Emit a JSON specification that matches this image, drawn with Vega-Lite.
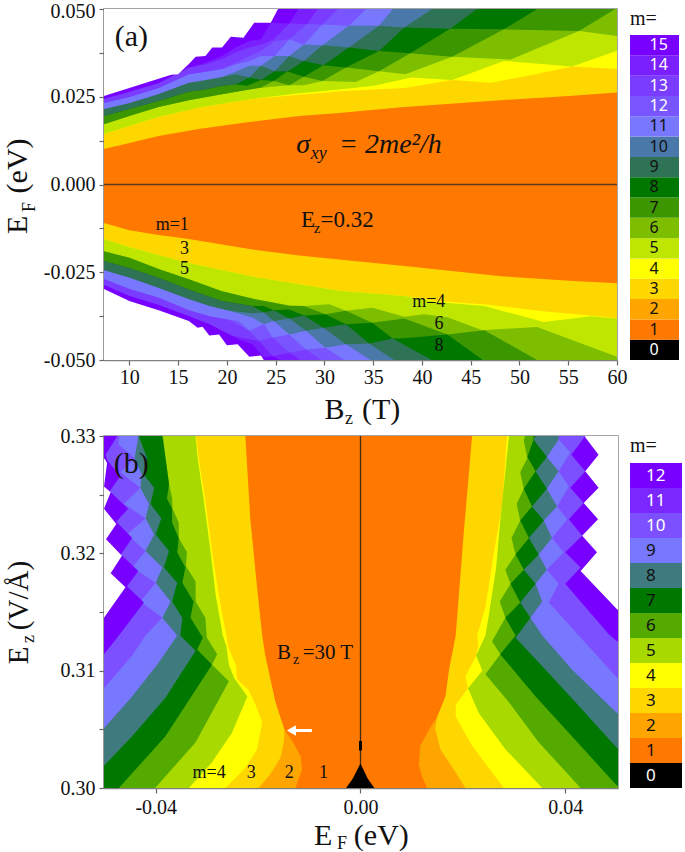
{"$schema":"https://vega.github.io/schema/vega-lite/v6.json","background":"white","padding":{"left":2,"top":0,"right":0,"bottom":0},"autosize":{"type":"pad"},"bounds":"flush","align":"none","columns":2,"spacing":{"row":76,"column":12},"resolve":{"scale":{"color":"independent"}},"config":{"font":"Liberation Serif","view":{"stroke":"#888888","strokeWidth":1.5},"axis":{"grid":false,"labelFont":"Liberation Serif","titleFont":"Liberation Serif","labelFontSize":20,"titleFontSize":30,"titleFontWeight":"normal","labelColor":"#111111","titleColor":"#111111","domainColor":"#808080","domainWidth":1.5,"tickColor":"#666666","tickWidth":1.2,"zindex":1,"labelOverlap":false,"labelFlush":false}},
"datasets":{
"aUp":[{"m":1,"x":7.4,"y":-0.05},{"m":1,"x":60,"y":-0.05},
{"m":3,"x":7.4,"y":0.0101},{"m":3,"x":10,"y":0.0118},{"m":3,"x":13,"y":0.0138},{"m":3,"x":17.1,"y":0.0158},{"m":3,"x":22.3,"y":0.0178},{"m":3,"x":27.4,"y":0.0195},{"m":3,"x":31.5,"y":0.0204},{"m":3,"x":38.2,"y":0.0221},{"m":3,"x":48.4,"y":0.0241},{"m":3,"x":55.1,"y":0.0252},{"m":3,"x":60,"y":0.0262},
{"m":4,"x":7.4,"y":0.0144},{"m":4,"x":10,"y":0.0167},{"m":4,"x":13,"y":0.0192},{"m":4,"x":16.1,"y":0.0212},{"m":4,"x":17.1,"y":0.0219},{"m":4,"x":22.3,"y":0.0243},{"m":4,"x":27.4,"y":0.0256},{"m":4,"x":29.8,"y":0.0261},{"m":4,"x":31.5,"y":0.0266},{"m":4,"x":35.1,"y":0.0271},{"m":4,"x":38.2,"y":0.0275},{"m":4,"x":43.1,"y":0.0298},{"m":4,"x":47.1,"y":0.029},{"m":4,"x":51.8,"y":0.0315},{"m":4,"x":55.4,"y":0.0336},{"m":4,"x":60,"y":0.0329},
{"m":5,"x":7.4,"y":0.0144},{"m":5,"x":10,"y":0.0167},{"m":5,"x":13,"y":0.0192},{"m":5,"x":16.1,"y":0.0212},{"m":5,"x":17.1,"y":0.0219},{"m":5,"x":22.3,"y":0.0243},{"m":5,"x":27.4,"y":0.026},{"m":5,"x":31.5,"y":0.0271},{"m":5,"x":35.1,"y":0.0281},{"m":5,"x":38.9,"y":0.0305},{"m":5,"x":43.1,"y":0.0298},{"m":5,"x":48.4,"y":0.0352},{"m":5,"x":55.4,"y":0.0336},{"m":5,"x":60,"y":0.0381},
{"m":6,"x":7.4,"y":0.0172},{"m":6,"x":10,"y":0.0195},{"m":6,"x":13,"y":0.0221},{"m":6,"x":16.1,"y":0.024},{"m":6,"x":19.5,"y":0.0257},{"m":6,"x":22.3,"y":0.0271},{"m":6,"x":24.3,"y":0.0278},{"m":6,"x":26.4,"y":0.0283},{"m":6,"x":27.9,"y":0.0283},{"m":6,"x":29.8,"y":0.0295},{"m":6,"x":33.2,"y":0.0292},{"m":6,"x":35.6,"y":0.0323},{"m":6,"x":38.3,"y":0.0314},{"m":6,"x":43.1,"y":0.0364},{"m":6,"x":49.1,"y":0.0356},{"m":6,"x":56.1,"y":0.0437},{"m":6,"x":60,"y":0.0423},
{"m":7,"x":7.4,"y":0.0172},{"m":7,"x":10,"y":0.0195},{"m":7,"x":13,"y":0.0221},{"m":7,"x":16.1,"y":0.024},{"m":7,"x":19.5,"y":0.0257},{"m":7,"x":22.3,"y":0.0271},{"m":7,"x":23.5,"y":0.0276},{"m":7,"x":24.8,"y":0.0295},{"m":7,"x":26.4,"y":0.0283},{"m":7,"x":27.9,"y":0.0307},{"m":7,"x":29.8,"y":0.0295},{"m":7,"x":32.2,"y":0.0333},{"m":7,"x":35.6,"y":0.0323},{"m":7,"x":38.8,"y":0.0374},{"m":7,"x":43.1,"y":0.0364},{"m":7,"x":48.4,"y":0.0442},{"m":7,"x":56.1,"y":0.0437},{"m":7,"x":60,"y":0.0503},
{"m":8,"x":7.4,"y":0.0195},{"m":8,"x":10,"y":0.0215},{"m":8,"x":13,"y":0.0238},{"m":8,"x":16.1,"y":0.0264},{"m":8,"x":17.8,"y":0.0271},{"m":8,"x":19.5,"y":0.0281},{"m":8,"x":20.9,"y":0.0285},{"m":8,"x":22.1,"y":0.0281},{"m":8,"x":23.5,"y":0.0298},{"m":8,"x":24.8,"y":0.0295},{"m":8,"x":26.2,"y":0.0322},{"m":8,"x":27.9,"y":0.0307},{"m":8,"x":29.9,"y":0.034},{"m":8,"x":32.2,"y":0.0333},{"m":8,"x":35.6,"y":0.038},{"m":8,"x":38.8,"y":0.0374},{"m":8,"x":42.9,"y":0.0444},{"m":8,"x":48.4,"y":0.0442},{"m":8,"x":52,"y":0.0503},
{"m":9,"x":7.4,"y":0.0195},{"m":9,"x":10,"y":0.0215},{"m":9,"x":13,"y":0.0238},{"m":9,"x":16.1,"y":0.0264},{"m":9,"x":17.8,"y":0.0271},{"m":9,"x":19.5,"y":0.0281},{"m":9,"x":20.9,"y":0.0285},{"m":9,"x":22.3,"y":0.0305},{"m":9,"x":23.5,"y":0.0298},{"m":9,"x":24.9,"y":0.0323},{"m":9,"x":26.2,"y":0.0322},{"m":9,"x":27.9,"y":0.0352},{"m":9,"x":29.9,"y":0.034},{"m":9,"x":32.5,"y":0.039},{"m":9,"x":35.6,"y":0.038},{"m":9,"x":38.2,"y":0.0447},{"m":9,"x":42.9,"y":0.0444},{"m":9,"x":45.8,"y":0.0503},
{"m":10,"x":7.4,"y":0.0215},{"m":10,"x":10,"y":0.0232},{"m":10,"x":13,"y":0.0258},{"m":10,"x":16.1,"y":0.029},{"m":10,"x":17.8,"y":0.0298},{"m":10,"x":19.5,"y":0.0305},{"m":10,"x":20.9,"y":0.0314},{"m":10,"x":22.3,"y":0.0305},{"m":10,"x":23.5,"y":0.0338},{"m":10,"x":24.9,"y":0.0323},{"m":10,"x":26.4,"y":0.0366},{"m":10,"x":27.9,"y":0.0352},{"m":10,"x":29.8,"y":0.0397},{"m":10,"x":32.5,"y":0.039},{"m":10,"x":35.6,"y":0.0452},{"m":10,"x":38.2,"y":0.0447},{"m":10,"x":41.2,"y":0.0503},
{"m":11,"x":7.4,"y":0.0215},{"m":11,"x":10,"y":0.0232},{"m":11,"x":13,"y":0.0258},{"m":11,"x":16.1,"y":0.029},{"m":11,"x":17.8,"y":0.0298},{"m":11,"x":19.5,"y":0.0307},{"m":11,"x":20.9,"y":0.0321},{"m":11,"x":22.3,"y":0.0338},{"m":11,"x":23.5,"y":0.0338},{"m":11,"x":24.9,"y":0.0366},{"m":11,"x":26.4,"y":0.0366},{"m":11,"x":27.9,"y":0.0399},{"m":11,"x":29.8,"y":0.0397},{"m":11,"x":32.5,"y":0.0452},{"m":11,"x":35.6,"y":0.0452},{"m":11,"x":37.1,"y":0.0503},
{"m":12,"x":7.4,"y":0.0232},{"m":12,"x":10,"y":0.0249},{"m":12,"x":13,"y":0.0275},{"m":12,"x":16.1,"y":0.0314},{"m":12,"x":17.8,"y":0.0321},{"m":12,"x":19.5,"y":0.0328},{"m":12,"x":20.9,"y":0.0342},{"m":12,"x":22.3,"y":0.0352},{"m":12,"x":23.5,"y":0.0366},{"m":12,"x":24.9,"y":0.0366},{"m":12,"x":26.4,"y":0.0414},{"m":12,"x":27.9,"y":0.0399},{"m":12,"x":29.8,"y":0.0456},{"m":12,"x":32.5,"y":0.0452},{"m":12,"x":34.4,"y":0.0503},
{"m":13,"x":7.4,"y":0.0232},{"m":13,"x":10,"y":0.0249},{"m":13,"x":13,"y":0.0275},{"m":13,"x":16.1,"y":0.0314},{"m":13,"x":17.8,"y":0.0321},{"m":13,"x":19.5,"y":0.033},{"m":13,"x":20.9,"y":0.0347},{"m":13,"x":22.3,"y":0.0366},{"m":13,"x":23.5,"y":0.038},{"m":13,"x":24.9,"y":0.0409},{"m":13,"x":26.4,"y":0.0414},{"m":13,"x":28.2,"y":0.0457},{"m":13,"x":29.8,"y":0.0456},{"m":13,"x":31.5,"y":0.0503},
{"m":14,"x":7.4,"y":0.0244},{"m":14,"x":10,"y":0.0264},{"m":14,"x":13,"y":0.0289},{"m":14,"x":16.1,"y":0.0333},{"m":14,"x":17.8,"y":0.0342},{"m":14,"x":19.5,"y":0.0357},{"m":14,"x":20.9,"y":0.0376},{"m":14,"x":22.3,"y":0.039},{"m":14,"x":23.5,"y":0.0399},{"m":14,"x":24.8,"y":0.0414},{"m":14,"x":26.4,"y":0.0459},{"m":14,"x":28.2,"y":0.0457},{"m":14,"x":29.4,"y":0.0503},
{"m":15,"x":7.4,"y":0.0244},{"m":15,"x":10,"y":0.0264},{"m":15,"x":13,"y":0.0289},{"m":15,"x":16.1,"y":0.0333},{"m":15,"x":17.8,"y":0.0347},{"m":15,"x":19.5,"y":0.0366},{"m":15,"x":20.9,"y":0.039},{"m":15,"x":22.3,"y":0.0409},{"m":15,"x":23.5,"y":0.0414},{"m":15,"x":24.5,"y":0.0461},{"m":15,"x":26.4,"y":0.0459},{"m":15,"x":27.4,"y":0.0503},
{"m":16,"x":7.4,"y":0.0252},{"m":16,"x":10,"y":0.0275},{"m":16,"x":13,"y":0.0301},{"m":16,"x":14.3,"y":0.0313},{"m":16,"x":15,"y":0.0314},{"m":16,"x":16.1,"y":0.0343},{"m":16,"x":16.8,"y":0.0364},{"m":16,"x":17.8,"y":0.0366},{"m":16,"x":18.5,"y":0.039},{"m":16,"x":19.5,"y":0.039},{"m":16,"x":20.4,"y":0.0421},{"m":16,"x":21.7,"y":0.0418},{"m":16,"x":22.8,"y":0.0461},{"m":16,"x":24.5,"y":0.0461},{"m":16,"x":25.3,"y":0.0503}],
"aLo":[
{"m":3,"x":7.4,"y":-0.011},{"m":3,"x":10,"y":-0.013},{"m":3,"x":13,"y":-0.0144},{"m":3,"x":16.1,"y":-0.0155},{"m":3,"x":22.3,"y":-0.0184},{"m":3,"x":27.4,"y":-0.0202},{"m":3,"x":31.5,"y":-0.0214},{"m":3,"x":38.2,"y":-0.0232},{"m":3,"x":48.4,"y":-0.0262},{"m":3,"x":55.1,"y":-0.0274},{"m":3,"x":60,"y":-0.0281},
{"m":4,"x":7.4,"y":-0.0155},{"m":4,"x":10,"y":-0.0178},{"m":4,"x":13,"y":-0.0201},{"m":4,"x":16.1,"y":-0.0224},{"m":4,"x":23,"y":-0.0264},{"m":4,"x":29.8,"y":-0.0295},{"m":4,"x":31.5,"y":-0.0303},{"m":4,"x":38.2,"y":-0.0318},{"m":4,"x":41.5,"y":-0.0332},{"m":4,"x":46.6,"y":-0.0342},{"m":4,"x":52.4,"y":-0.0361},{"m":4,"x":60,"y":-0.038},
{"m":5,"x":7.4,"y":-0.0155},{"m":5,"x":10,"y":-0.0178},{"m":5,"x":13,"y":-0.0201},{"m":5,"x":16.1,"y":-0.0224},{"m":5,"x":23,"y":-0.0264},{"m":5,"x":29.8,"y":-0.0295},{"m":5,"x":31.5,"y":-0.0303},{"m":5,"x":38.2,"y":-0.0318},{"m":5,"x":41.5,"y":-0.0335},{"m":5,"x":46.4,"y":-0.0346},{"m":5,"x":52.5,"y":-0.0392},{"m":5,"x":57.3,"y":-0.0375},{"m":5,"x":60,"y":-0.0382},
{"m":6,"x":7.4,"y":-0.019},{"m":6,"x":10,"y":-0.0209},{"m":6,"x":13,"y":-0.0241},{"m":6,"x":16.1,"y":-0.027},{"m":6,"x":19.5,"y":-0.0304},{"m":6,"x":22.9,"y":-0.0327},{"m":6,"x":26.4,"y":-0.0344},{"m":6,"x":27.9,"y":-0.0346},{"m":6,"x":30.5,"y":-0.0341},{"m":6,"x":32.2,"y":-0.036},{"m":6,"x":34.9,"y":-0.0351},{"m":6,"x":38.2,"y":-0.0377},{"m":6,"x":40.2,"y":-0.037},{"m":6,"x":42.6,"y":-0.0378},{"m":6,"x":46.2,"y":-0.0415},{"m":6,"x":51.8,"y":-0.0406},{"m":6,"x":60,"y":-0.0491},
{"m":7,"x":7.4,"y":-0.019},{"m":7,"x":10,"y":-0.0209},{"m":7,"x":13,"y":-0.0241},{"m":7,"x":16.1,"y":-0.027},{"m":7,"x":19.5,"y":-0.0304},{"m":7,"x":22.9,"y":-0.0327},{"m":7,"x":24.8,"y":-0.0337},{"m":7,"x":26.4,"y":-0.0346},{"m":7,"x":27.9,"y":-0.0346},{"m":7,"x":30.1,"y":-0.037},{"m":7,"x":32.2,"y":-0.036},{"m":7,"x":34.9,"y":-0.0394},{"m":7,"x":38.2,"y":-0.0382},{"m":7,"x":42.6,"y":-0.0427},{"m":7,"x":46.4,"y":-0.0415},{"m":7,"x":52,"y":-0.0503},
{"m":8,"x":7.4,"y":-0.0218},{"m":8,"x":10,"y":-0.0238},{"m":8,"x":13,"y":-0.0266},{"m":8,"x":16.1,"y":-0.0299},{"m":8,"x":19.5,"y":-0.0332},{"m":8,"x":22.6,"y":-0.0346},{"m":8,"x":23.8,"y":-0.0346},{"m":8,"x":24.8,"y":-0.0358},{"m":8,"x":26.4,"y":-0.0356},{"m":8,"x":27.9,"y":-0.0373},{"m":8,"x":30.1,"y":-0.037},{"m":8,"x":32.2,"y":-0.0398},{"m":8,"x":34.9,"y":-0.0394},{"m":8,"x":37,"y":-0.0439},{"m":8,"x":38.2,"y":-0.0438},{"m":8,"x":42.6,"y":-0.0427},{"m":8,"x":46.4,"y":-0.0503},
{"m":9,"x":7.4,"y":-0.0218},{"m":9,"x":10,"y":-0.0238},{"m":9,"x":13,"y":-0.0266},{"m":9,"x":16.1,"y":-0.0299},{"m":9,"x":19.5,"y":-0.0332},{"m":9,"x":22.6,"y":-0.0346},{"m":9,"x":23.8,"y":-0.0365},{"m":9,"x":24.8,"y":-0.0358},{"m":9,"x":26.4,"y":-0.0382},{"m":9,"x":27.9,"y":-0.0373},{"m":9,"x":29.9,"y":-0.0408},{"m":9,"x":32.2,"y":-0.0398},{"m":9,"x":34.6,"y":-0.0453},{"m":9,"x":37,"y":-0.0439},{"m":9,"x":41.2,"y":-0.0503},
{"m":10,"x":7.4,"y":-0.0244},{"m":10,"x":10,"y":-0.0266},{"m":10,"x":13,"y":-0.0295},{"m":10,"x":16.1,"y":-0.0327},{"m":10,"x":18.2,"y":-0.0346},{"m":10,"x":20.2,"y":-0.036},{"m":10,"x":22.6,"y":-0.0367},{"m":10,"x":23.8,"y":-0.0365},{"m":10,"x":24.8,"y":-0.0389},{"m":10,"x":26.4,"y":-0.0382},{"m":10,"x":28.1,"y":-0.0417},{"m":10,"x":29.9,"y":-0.0408},{"m":10,"x":32.2,"y":-0.0455},{"m":10,"x":34.6,"y":-0.0453},{"m":10,"x":37.3,"y":-0.0503},
{"m":11,"x":7.4,"y":-0.0244},{"m":11,"x":10,"y":-0.0266},{"m":11,"x":13,"y":-0.0295},{"m":11,"x":16.1,"y":-0.0327},{"m":11,"x":18.2,"y":-0.0346},{"m":11,"x":20.2,"y":-0.036},{"m":11,"x":22.6,"y":-0.0379},{"m":11,"x":23.8,"y":-0.0398},{"m":11,"x":24.8,"y":-0.0389},{"m":11,"x":26.4,"y":-0.0427},{"m":11,"x":28.1,"y":-0.0417},{"m":11,"x":30.1,"y":-0.0465},{"m":11,"x":32.2,"y":-0.0455},{"m":11,"x":34.9,"y":-0.0503},
{"m":12,"x":7.4,"y":-0.0269},{"m":12,"x":10,"y":-0.0298},{"m":12,"x":13,"y":-0.0323},{"m":12,"x":16.1,"y":-0.0358},{"m":12,"x":18.2,"y":-0.0375},{"m":12,"x":20.2,"y":-0.0385},{"m":12,"x":21.2,"y":-0.0389},{"m":12,"x":22.3,"y":-0.0417},{"m":12,"x":23.8,"y":-0.0398},{"m":12,"x":24.7,"y":-0.0436},{"m":12,"x":26.4,"y":-0.0427},{"m":12,"x":28.1,"y":-0.047},{"m":12,"x":30.1,"y":-0.0465},{"m":12,"x":32.2,"y":-0.0503},
{"m":13,"x":7.4,"y":-0.0269},{"m":13,"x":10,"y":-0.0298},{"m":13,"x":13,"y":-0.0323},{"m":13,"x":16.1,"y":-0.0358},{"m":13,"x":18.2,"y":-0.0375},{"m":13,"x":20.2,"y":-0.0385},{"m":13,"x":22.3,"y":-0.0417},{"m":13,"x":23.3,"y":-0.0446},{"m":13,"x":24.7,"y":-0.0436},{"m":13,"x":26.4,"y":-0.0479},{"m":13,"x":28.1,"y":-0.047},{"m":13,"x":29.8,"y":-0.0503},
{"m":14,"x":7.4,"y":-0.0286},{"m":14,"x":10,"y":-0.0318},{"m":14,"x":13,"y":-0.0343},{"m":14,"x":16.1,"y":-0.0375},{"m":14,"x":18.2,"y":-0.0398},{"m":14,"x":19.5,"y":-0.0417},{"m":14,"x":20.5,"y":-0.043},{"m":14,"x":21.9,"y":-0.0439},{"m":14,"x":23.3,"y":-0.0446},{"m":14,"x":24.7,"y":-0.0489},{"m":14,"x":26.4,"y":-0.0479},{"m":14,"x":27.7,"y":-0.0503},
{"m":15,"x":7.4,"y":-0.0286},{"m":15,"x":10,"y":-0.0318},{"m":15,"x":13,"y":-0.0343},{"m":15,"x":16.1,"y":-0.0375},{"m":15,"x":18.2,"y":-0.0398},{"m":15,"x":19.5,"y":-0.0417},{"m":15,"x":21.2,"y":-0.0441},{"m":15,"x":22.6,"y":-0.0455},{"m":15,"x":23.8,"y":-0.0493},{"m":15,"x":24.7,"y":-0.0489},{"m":15,"x":25.7,"y":-0.0503},
{"m":16,"x":7.4,"y":-0.0298},{"m":16,"x":10,"y":-0.0332},{"m":16,"x":13,"y":-0.0358},{"m":16,"x":16.1,"y":-0.0389},{"m":16,"x":17,"y":-0.0408},{"m":16,"x":17.5,"y":-0.0405},{"m":16,"x":18.2,"y":-0.043},{"m":16,"x":19.2,"y":-0.0427},{"m":16,"x":20,"y":-0.0458},{"m":16,"x":21.1,"y":-0.0455},{"m":16,"x":22.3,"y":-0.0491},{"m":16,"x":23.5,"y":-0.0487},{"m":16,"x":24,"y":-0.051}],
"bL":[{"m":1,"x":0.0505,"y":0.3},{"m":1,"x":0.0505,"y":0.33},
{"m":2,"y":0.3,"x":-0.0127},{"m":2,"y":0.3016,"x":-0.0114},{"m":2,"y":0.3027,"x":-0.0117},{"m":2,"y":0.304,"x":-0.0133},{"m":2,"y":0.3049,"x":-0.0148},
{"m":3,"y":0.3,"x":-0.0199},{"m":3,"y":0.3012,"x":-0.0176},{"m":3,"y":0.3026,"x":-0.0156},{"m":3,"y":0.3039,"x":-0.015},{"m":3,"y":0.3049,"x":-0.0148},{"m":3,"y":0.3073,"x":-0.0166},{"m":3,"y":0.3093,"x":-0.0176},{"m":3,"y":0.3113,"x":-0.0186},{"m":3,"y":0.313,"x":-0.0192},{"m":3,"y":0.3171,"x":-0.0202},{"m":3,"y":0.3228,"x":-0.0215},{"m":3,"y":0.33,"x":-0.0225},
{"m":4,"y":0.3,"x":-0.0264},{"m":4,"y":0.3017,"x":-0.0225},{"m":4,"y":0.3033,"x":-0.0202},{"m":4,"y":0.3056,"x":-0.0192},{"m":4,"y":0.3071,"x":-0.0205},{"m":4,"y":0.3083,"x":-0.0218},{"m":4,"y":0.3093,"x":-0.0241},{"m":4,"y":0.3104,"x":-0.0243},{"m":4,"y":0.3121,"x":-0.0259},{"m":4,"y":0.313,"x":-0.0262},{"m":4,"y":0.3165,"x":-0.0277},{"m":4,"y":0.3202,"x":-0.029},{"m":4,"y":0.3245,"x":-0.0303},{"m":4,"y":0.3281,"x":-0.0316},{"m":4,"y":0.33,"x":-0.0321},
{"m":5,"y":0.3,"x":-0.0335},{"m":5,"y":0.3022,"x":-0.029},{"m":5,"y":0.3047,"x":-0.0251},{"m":5,"y":0.3078,"x":-0.0221},{"m":5,"y":0.3094,"x":-0.0247},{"m":5,"y":0.3105,"x":-0.0257},{"m":5,"y":0.3121,"x":-0.0262},{"m":5,"y":0.313,"x":-0.0269},{"m":5,"y":0.3165,"x":-0.0283},{"m":5,"y":0.3202,"x":-0.0293},{"m":5,"y":0.3245,"x":-0.0306},{"m":5,"y":0.3281,"x":-0.0318},{"m":5,"y":0.33,"x":-0.0322},
{"m":6,"y":0.3,"x":-0.0401},{"m":6,"y":0.3039,"x":-0.0322},{"m":6,"y":0.3091,"x":-0.0257},{"m":6,"y":0.3105,"x":-0.029},{"m":6,"y":0.3114,"x":-0.028},{"m":6,"y":0.3128,"x":-0.03},{"m":6,"y":0.3145,"x":-0.0303},{"m":6,"y":0.3159,"x":-0.0322},{"m":6,"y":0.3176,"x":-0.0322},{"m":6,"y":0.3189,"x":-0.0341},{"m":6,"y":0.3201,"x":-0.0339},{"m":6,"y":0.3213,"x":-0.0355},{"m":6,"y":0.3226,"x":-0.0355},{"m":6,"y":0.3238,"x":-0.0367},{"m":6,"y":0.3247,"x":-0.0368},{"m":6,"y":0.3259,"x":-0.0374},{"m":6,"y":0.33,"x":-0.0386},
{"m":7,"y":0.3,"x":-0.0472},{"m":7,"y":0.3044,"x":-0.0381},{"m":7,"y":0.3105,"x":-0.029},{"m":7,"y":0.3118,"x":-0.0319},{"m":7,"y":0.3128,"x":-0.0308},{"m":7,"y":0.3145,"x":-0.0332},{"m":7,"y":0.3159,"x":-0.0326},{"m":7,"y":0.3175,"x":-0.0348},{"m":7,"y":0.3188,"x":-0.0342},{"m":7,"y":0.3201,"x":-0.0358},{"m":7,"y":0.3213,"x":-0.0355},{"m":7,"y":0.3226,"x":-0.0368},{"m":7,"y":0.3238,"x":-0.0368},{"m":7,"y":0.3247,"x":-0.0378},{"m":7,"y":0.3259,"x":-0.0374},{"m":7,"y":0.33,"x":-0.0387},
{"m":8,"y":0.3019,"x":-0.0501},{"m":8,"y":0.3044,"x":-0.0446},{"m":8,"y":0.3077,"x":-0.0381},{"m":8,"y":0.3117,"x":-0.0322},{"m":8,"y":0.313,"x":-0.0352},{"m":8,"y":0.3145,"x":-0.0348},{"m":8,"y":0.3159,"x":-0.0368},{"m":8,"y":0.3175,"x":-0.0358},{"m":8,"y":0.3188,"x":-0.0384},{"m":8,"y":0.3202,"x":-0.0374},{"m":8,"y":0.3216,"x":-0.04},{"m":8,"y":0.323,"x":-0.0389},{"m":8,"y":0.3242,"x":-0.041},{"m":8,"y":0.3256,"x":-0.0403},{"m":8,"y":0.3267,"x":-0.0423},{"m":8,"y":0.3281,"x":-0.0417},{"m":8,"y":0.33,"x":-0.0433},
{"m":9,"y":0.3051,"x":-0.0501},{"m":9,"y":0.3078,"x":-0.0446},{"m":9,"y":0.3107,"x":-0.0394},{"m":9,"y":0.313,"x":-0.0358},{"m":9,"y":0.3145,"x":-0.0387},{"m":9,"y":0.3159,"x":-0.0371},{"m":9,"y":0.3175,"x":-0.04},{"m":9,"y":0.3188,"x":-0.0387},{"m":9,"y":0.3202,"x":-0.042},{"m":9,"y":0.3216,"x":-0.0403},{"m":9,"y":0.323,"x":-0.042},{"m":9,"y":0.3242,"x":-0.0413},{"m":9,"y":0.3256,"x":-0.043},{"m":9,"y":0.3267,"x":-0.0427},{"m":9,"y":0.3281,"x":-0.0441},{"m":9,"y":0.33,"x":-0.0434},
{"m":10,"y":0.3085,"x":-0.0501},{"m":10,"y":0.3113,"x":-0.0446},{"m":10,"y":0.313,"x":-0.042},{"m":10,"y":0.3145,"x":-0.0387},{"m":10,"y":0.3159,"x":-0.043},{"m":10,"y":0.3175,"x":-0.04},{"m":10,"y":0.3188,"x":-0.0446},{"m":10,"y":0.3202,"x":-0.042},{"m":10,"y":0.3216,"x":-0.0456},{"m":10,"y":0.323,"x":-0.042},{"m":10,"y":0.3242,"x":-0.0462},{"m":10,"y":0.3256,"x":-0.043},{"m":10,"y":0.3269,"x":-0.0469},{"m":10,"y":0.3281,"x":-0.0441},{"m":10,"y":0.3293,"x":-0.0473},{"m":10,"y":0.33,"x":-0.0471},
{"m":12,"y":0.3114,"x":-0.0501},{"m":12,"y":0.313,"x":-0.0472},{"m":12,"y":0.3158,"x":-0.0423},{"m":12,"y":0.3172,"x":-0.0456},{"m":12,"y":0.3185,"x":-0.0434},{"m":12,"y":0.3199,"x":-0.0468},{"m":12,"y":0.3213,"x":-0.0446},{"m":12,"y":0.3227,"x":-0.0477},{"m":12,"y":0.3238,"x":-0.0454},{"m":12,"y":0.3253,"x":-0.049},{"m":12,"y":0.3266,"x":-0.0469},{"m":12,"y":0.3279,"x":-0.0494},{"m":12,"y":0.3284,"x":-0.0498},{"m":12,"y":0.33,"x":-0.0475},
{"m":13,"y":0.3145,"x":-0.0501},{"m":13,"y":0.3171,"x":-0.0459},{"m":13,"y":0.3183,"x":-0.0488},{"m":13,"y":0.3198,"x":-0.0466},{"m":13,"y":0.3212,"x":-0.0497},{"m":13,"y":0.3225,"x":-0.0477},{"m":13,"y":0.3238,"x":-0.0501},{"m":13,"y":0.3252,"x":-0.0488},{"m":13,"y":0.3257,"x":-0.0501},{"m":13,"y":0.3277,"x":-0.0495},{"m":13,"y":0.328,"x":-0.0499},{"m":13,"y":0.3281,"x":-0.0501},{"m":13,"y":0.33,"x":-0.0501}],
"bR":[
{"m":2,"y":0.3,"x":0.013},{"m":2,"y":0.301,"x":0.012},{"m":2,"y":0.302,"x":0.0114},{"m":2,"y":0.3036,"x":0.0117},{"m":2,"y":0.3049,"x":0.0133},{"m":2,"y":0.3061,"x":0.015},
{"m":3,"y":0.3,"x":0.0205},{"m":3,"y":0.3016,"x":0.0182},{"m":3,"y":0.3033,"x":0.0156},{"m":3,"y":0.305,"x":0.0146},{"m":3,"y":0.3061,"x":0.015},{"m":3,"y":0.3078,"x":0.0166},{"m":3,"y":0.3101,"x":0.0173},{"m":3,"y":0.3121,"x":0.0182},{"m":3,"y":0.313,"x":0.0186},{"m":3,"y":0.3219,"x":0.0202},{"m":3,"y":0.33,"x":0.0218},
{"m":4,"y":0.3,"x":0.028},{"m":4,"y":0.3036,"x":0.0218},{"m":4,"y":0.3061,"x":0.0186},{"m":4,"y":0.3071,"x":0.0186},{"m":4,"y":0.3085,"x":0.021},{"m":4,"y":0.3095,"x":0.0205},{"m":4,"y":0.3113,"x":0.0226},{"m":4,"y":0.3121,"x":0.023},{"m":4,"y":0.313,"x":0.0228},{"m":4,"y":0.3154,"x":0.0244},{"m":4,"y":0.3199,"x":0.026},{"m":4,"y":0.3242,"x":0.0277},{"m":4,"y":0.33,"x":0.0286},
{"m":5,"y":0.3,"x":0.0355},{"m":5,"y":0.3033,"x":0.0283},{"m":5,"y":0.3064,"x":0.0231},{"m":5,"y":0.3085,"x":0.021},{"m":5,"y":0.31,"x":0.0238},{"m":5,"y":0.3113,"x":0.0226},{"m":5,"y":0.313,"x":0.0244},{"m":5,"y":0.3148,"x":0.0251},{"m":5,"y":0.3188,"x":0.0265},{"m":5,"y":0.3228,"x":0.0273},{"m":5,"y":0.327,"x":0.0283},{"m":5,"y":0.33,"x":0.029},
{"m":6,"y":0.3,"x":0.043},{"m":6,"y":0.3039,"x":0.0348},{"m":6,"y":0.3073,"x":0.029},{"m":6,"y":0.3097,"x":0.0244},{"m":6,"y":0.3114,"x":0.0273},{"m":6,"y":0.3125,"x":0.0257},{"m":6,"y":0.3145,"x":0.0283},{"m":6,"y":0.3159,"x":0.0272},{"m":6,"y":0.3174,"x":0.0293},{"m":6,"y":0.3186,"x":0.0283},{"m":6,"y":0.3199,"x":0.0303},{"m":6,"y":0.3213,"x":0.0295},{"m":6,"y":0.3228,"x":0.0312},{"m":6,"y":0.3242,"x":0.0305},{"m":6,"y":0.3255,"x":0.0319},{"m":6,"y":0.3269,"x":0.0312},{"m":6,"y":0.3281,"x":0.0326},{"m":6,"y":0.3296,"x":0.0319},{"m":6,"y":0.33,"x":0.0321},
{"m":7,"y":0.3002,"x":0.0501},{"m":7,"y":0.3044,"x":0.0413},{"m":7,"y":0.3078,"x":0.0342},{"m":7,"y":0.3114,"x":0.0273},{"m":7,"y":0.313,"x":0.0303},{"m":7,"y":0.3145,"x":0.0283},{"m":7,"y":0.3158,"x":0.0312},{"m":7,"y":0.3174,"x":0.0293},{"m":7,"y":0.3186,"x":0.0319},{"m":7,"y":0.3199,"x":0.0303},{"m":7,"y":0.3213,"x":0.0329},{"m":7,"y":0.3228,"x":0.0312},{"m":7,"y":0.324,"x":0.0335},{"m":7,"y":0.3255,"x":0.0319},{"m":7,"y":0.327,"x":0.0342},{"m":7,"y":0.3282,"x":0.0326},{"m":7,"y":0.3297,"x":0.0338},{"m":7,"y":0.33,"x":0.0338},
{"m":8,"y":0.3034,"x":0.0501},{"m":8,"y":0.3073,"x":0.042},{"m":8,"y":0.3101,"x":0.0361},{"m":8,"y":0.3128,"x":0.0303},{"m":8,"y":0.3145,"x":0.0332},{"m":8,"y":0.3158,"x":0.0312},{"m":8,"y":0.3174,"x":0.0342},{"m":8,"y":0.3186,"x":0.0319},{"m":8,"y":0.3199,"x":0.0348},{"m":8,"y":0.3213,"x":0.0329},{"m":8,"y":0.3228,"x":0.0358},{"m":8,"y":0.324,"x":0.0335},{"m":8,"y":0.3255,"x":0.0364},{"m":8,"y":0.327,"x":0.0342},{"m":8,"y":0.3282,"x":0.0364},{"m":8,"y":0.3297,"x":0.0338},{"m":8,"y":0.33,"x":0.0342},
{"m":9,"y":0.3064,"x":0.0501},{"m":9,"y":0.3101,"x":0.0413},{"m":9,"y":0.313,"x":0.0355},{"m":9,"y":0.3145,"x":0.0332},{"m":9,"y":0.3159,"x":0.0355},{"m":9,"y":0.3174,"x":0.0342},{"m":9,"y":0.3186,"x":0.0364},{"m":9,"y":0.3199,"x":0.0348},{"m":9,"y":0.3213,"x":0.0374},{"m":9,"y":0.3228,"x":0.0358},{"m":9,"y":0.324,"x":0.0384},{"m":9,"y":0.3255,"x":0.0364},{"m":9,"y":0.327,"x":0.0387},{"m":9,"y":0.3282,"x":0.0364},{"m":9,"y":0.3297,"x":0.0387},{"m":9,"y":0.33,"x":0.0387},
{"m":10,"y":0.3094,"x":0.0501},{"m":10,"y":0.3113,"x":0.0462},{"m":10,"y":0.313,"x":0.0426},{"m":10,"y":0.3145,"x":0.0395},{"m":10,"y":0.3158,"x":0.0368},{"m":10,"y":0.3174,"x":0.0387},{"m":10,"y":0.3186,"x":0.0364},{"m":10,"y":0.3201,"x":0.0397},{"m":10,"y":0.3213,"x":0.0374},{"m":10,"y":0.3229,"x":0.0404},{"m":10,"y":0.324,"x":0.0384},{"m":10,"y":0.3257,"x":0.0407},{"m":10,"y":0.327,"x":0.0387},{"m":10,"y":0.3286,"x":0.041},{"m":10,"y":0.3297,"x":0.0387},{"m":10,"y":0.33,"x":0.0388},
{"m":12,"y":0.3125,"x":0.0501},{"m":12,"y":0.3131,"x":0.0485},{"m":12,"y":0.3174,"x":0.04},{"m":12,"y":0.3188,"x":0.043},{"m":12,"y":0.3201,"x":0.04},{"m":12,"y":0.3215,"x":0.0433},{"m":12,"y":0.3229,"x":0.0407},{"m":12,"y":0.3243,"x":0.0436},{"m":12,"y":0.3256,"x":0.041},{"m":12,"y":0.327,"x":0.0439},{"m":12,"y":0.3284,"x":0.0412},{"m":12,"y":0.33,"x":0.0439},
{"m":13,"y":0.3152,"x":0.0502},{"m":13,"y":0.3185,"x":0.043},{"m":13,"y":0.3201,"x":0.0462},{"m":13,"y":0.3215,"x":0.0433},{"m":13,"y":0.3229,"x":0.0464},{"m":13,"y":0.3243,"x":0.0436},{"m":13,"y":0.3256,"x":0.0465},{"m":13,"y":0.327,"x":0.0439},{"m":13,"y":0.3284,"x":0.0465},{"m":13,"y":0.3299,"x":0.0439},{"m":13,"y":0.33,"x":0.0439}],
"barA":[{"m":0,"lo":0,"hi":1,"mid":0.5},{"m":1,"lo":1,"hi":2,"mid":1.5},{"m":2,"lo":2,"hi":3,"mid":2.5},{"m":3,"lo":3,"hi":4,"mid":3.5},{"m":4,"lo":4,"hi":5,"mid":4.5},{"m":5,"lo":5,"hi":6,"mid":5.5},{"m":6,"lo":6,"hi":7,"mid":6.5},{"m":7,"lo":7,"hi":8,"mid":7.5},{"m":8,"lo":8,"hi":9,"mid":8.5},{"m":9,"lo":9,"hi":10,"mid":9.5},{"m":10,"lo":10,"hi":11,"mid":10.5},{"m":11,"lo":11,"hi":12,"mid":11.5},{"m":12,"lo":12,"hi":13,"mid":12.5},{"m":13,"lo":13,"hi":14,"mid":13.5},{"m":14,"lo":14,"hi":15,"mid":14.5},{"m":15,"lo":15,"hi":16,"mid":15.5}],
"barB":[{"m":0,"lo":0,"hi":1,"mid":0.5},{"m":1,"lo":1,"hi":2,"mid":1.5},{"m":2,"lo":2,"hi":3,"mid":2.5},{"m":3,"lo":3,"hi":4,"mid":3.5},{"m":4,"lo":4,"hi":5,"mid":4.5},{"m":5,"lo":5,"hi":6,"mid":5.5},{"m":6,"lo":6,"hi":7,"mid":6.5},{"m":7,"lo":7,"hi":8,"mid":7.5},{"m":8,"lo":8,"hi":9,"mid":8.5},{"m":9,"lo":9,"hi":10,"mid":9.5},{"m":10,"lo":10,"hi":11,"mid":10.5},{"m":11,"lo":11,"hi":12,"mid":11.5},{"m":12,"lo":12,"hi":13,"mid":12.5}]
},
"concat":[
{"width":513,"height":351,
"encoding":{"x":{"field":"x","type":"quantitative","title":null,"scale":{"domain":[7.4,60],"nice":false,"zero":false},"axis":{"values":[10,15,20,25,30,35,40,45,50,55,60],"tickSize":5,"labelPadding":2}},
"y":{"field":"y","type":"quantitative","stack":null,"title":null,"scale":{"domain":[-0.05,0.05],"nice":false,"zero":false},"axis":{"values":[-0.05,-0.0375,-0.025,-0.0125,0,0.0125,0.025,0.0375,0.05],"tickSize":5,"labelPadding":4,"labelOffset":{"condition":{"test":"datum.value>=0.05","value":2},"value":0},"labelExpr":"abs(datum.value/0.025-round(datum.value/0.025))<0.001?replace(format(datum.value,'.3f'),'\u2212','-'):''"}}},
"layer":[
{"data":{"name":"aUp"},"mark":{"type":"area","clip":true},"encoding":{"y2":{"datum":0.05},"color":{"field":"m","type":"nominal","legend":null,"scale":{"domain":[1,3,4,5,6,7,8,9,10,11,12,13,14,15,16],"range":["#FF7800","#FFD700","#FFFF00","#BFE600","#7DBE00","#3C9600","#007800","#2E7355","#4A78A8","#7878FF","#7855FF","#7A3CFF","#7A20FF","#7800FF","#FFFFFF"]}}}},
{"data":{"name":"aLo"},"mark":{"type":"area","clip":true},"encoding":{"y2":{"datum":-0.05},"color":{"field":"m","type":"nominal","legend":null}}},
{"data":{"values":[{"x":7.4,"x2":60,"y":0}]},"mark":{"type":"rule","color":"#5C3A1E","strokeWidth":1.5},"encoding":{"x2":{"field":"x2"}}},
{"data":{"values":[{"t":"(a)","x":8.5,"y":0.042}]},"mark":{"type":"text","font":"Liberation Serif","fontSize":30,"align":"left","baseline":"middle","color":"#111111"},"encoding":{"text":{"field":"t"}}},
{"data":{"values":[{"t":"\u03c3","x":27.1,"y":0.009},{"t":"= 2me\u00b2/h","x":31.5,"y":0.009}]},"mark":{"type":"text","font":"Liberation Serif","fontSize":28,"fontStyle":"italic","align":"left","baseline":"alphabetic","color":"#111111"},"encoding":{"text":{"field":"t"}}},
{"data":{"values":[{"t":"xy","x":28.6,"y":0.0073}]},"mark":{"type":"text","font":"Liberation Serif","fontSize":18,"fontStyle":"italic","align":"left","baseline":"alphabetic","color":"#111111"},"encoding":{"text":{"field":"t"}}},
{"data":{"values":[{"t":"E","x":27.6,"y":-0.0121},{"t":"=0.32","x":29.6,"y":-0.0121}]},"mark":{"type":"text","font":"Liberation Serif","fontSize":23,"align":"left","baseline":"alphabetic","color":"#111111"},"encoding":{"text":{"field":"t"}}},
{"data":{"values":[{"t":"z","x":28.9,"y":-0.0138}]},"mark":{"type":"text","font":"Liberation Serif","fontSize":15,"align":"left","baseline":"alphabetic","color":"#111111"},"encoding":{"text":{"field":"t"}}},
{"data":{"values":[{"t":"m=1","x":12.7,"y":-0.0115},{"t":"3","x":15.2,"y":-0.0184},{"t":"5","x":15.2,"y":-0.0241},{"t":"m=4","x":39,"y":-0.0335},{"t":"6","x":41.3,"y":-0.0398},{"t":"8","x":41.3,"y":-0.046}]},"mark":{"type":"text","font":"Liberation Serif","fontSize":18,"align":"left","baseline":"middle","color":"#111111"},"encoding":{"text":{"field":"t"}}},
{"data":{"values":[{"t":"E","x":-1.4,"y":-0.0115},{"t":"(eV)","x":-1.4,"y":0.0053}]},"mark":{"type":"text","font":"Liberation Serif","fontSize":30,"angle":270,"align":"center","baseline":"middle","color":"#111111"},"encoding":{"text":{"field":"t"}}},
{"data":{"values":[{"t":"F","x":-0.19,"y":-0.0064}]},"mark":{"type":"text","font":"Liberation Serif","fontSize":18,"angle":270,"align":"center","baseline":"middle","color":"#111111"},"encoding":{"text":{"field":"t"}}},
{"data":{"values":[{"t":"B","x":30,"y":-0.0668},{"t":"(T)","x":33.85,"y":-0.0668}]},"mark":{"type":"text","font":"Liberation Serif","fontSize":30,"align":"left","baseline":"alphabetic","color":"#111111"},"encoding":{"text":{"field":"t"}}},
{"data":{"values":[{"t":"z","x":32.1,"y":-0.0683}]},"mark":{"type":"text","font":"Liberation Serif","fontSize":18,"align":"left","baseline":"alphabetic","color":"#111111"},"encoding":{"text":{"field":"t"}}}
]},
{"width":49,"height":351,"view":{"stroke":null},
"encoding":{"y":{"field":"lo","type":"quantitative","scale":{"domain":[0,17.28],"nice":false,"zero":false},"axis":null}},
"layer":[
{"data":{"name":"barA"},"mark":{"type":"rect"},"encoding":{"x":{"datum":0,"type":"quantitative","scale":{"domain":[0,1]},"axis":null},"x2":{"datum":1},"y2":{"field":"hi"},"color":{"field":"m","type":"nominal","legend":null,"scale":{"domain":[0,1,2,3,4,5,6,7,8,9,10,11,12,13,14,15],"range":["#000000","#FF7800","#FFA500","#FFD700","#FFFF00","#BFE600","#7DBE00","#3C9600","#007800","#2E7355","#4A78A8","#7878FF","#7855FF","#7A3CFF","#7A20FF","#7800FF"]}}}},
{"data":{"name":"barA"},"mark":{"type":"text","font":"Noto Sans","fontSize":16,"align":"left","baseline":"middle"},"encoding":{"x":{"datum":0.4,"type":"quantitative"},"y":{"field":"mid","type":"quantitative"},"text":{"field":"m"},"color":{"condition":{"test":"datum.m>=12||datum.m==0","value":"#FFFFFF"},"value":"#111111"}}},
{"data":{"values":[{"t":"m=","lo":16.79}]},"mark":{"type":"text","font":"Liberation Serif","fontSize":20,"align":"left","baseline":"middle","color":"#111111"},"encoding":{"x":{"datum":0,"type":"quantitative"},"text":{"field":"t"}}}
]},
{"width":514,"height":352,
"encoding":{"x":{"field":"x","type":"quantitative","title":null,"scale":{"domain":[-0.0501,0.0503],"nice":false,"zero":false},"axis":{"values":[-0.04,0,0.04],"tickSize":5,"labelPadding":4,"labelExpr":"replace(format(datum.value,'.2f'),'\u2212','-')"}},
"y":{"field":"y","type":"quantitative","stack":null,"title":null,"scale":{"domain":[0.3,0.33],"nice":false,"zero":false},"axis":{"values":[0.3,0.305,0.31,0.315,0.32,0.325,0.33],"tickSize":5,"labelPadding":4,"labelExpr":"abs(datum.value*100-round(datum.value*100))<0.01?format(datum.value,'.2f'):''"}}},
"layer":[
{"data":{"name":"bL"},"mark":{"type":"area","orient":"horizontal","clip":true},"encoding":{"x2":{"datum":-0.0501},"color":{"field":"m","type":"nominal","legend":null,"scale":{"domain":[1,2,3,4,5,6,7,8,9,10,12,13],"range":["#FF7800","#FFA500","#FFD700","#FFFF00","#A8D900","#55AA00","#007800","#3F7A7F","#7878FF","#7D50FF","#7800FF","#FFFFFF"]}}}},
{"data":{"name":"bR"},"mark":{"type":"area","orient":"horizontal","clip":true},"encoding":{"x2":{"datum":0.0503},"color":{"field":"m","type":"nominal","legend":null}}},
{"data":{"values":[{"x":0,"y":0.3,"y2":0.33}]},"mark":{"type":"rule","color":"#3D2B14","strokeWidth":1.3},"encoding":{"y2":{"field":"y2"}}},
{"data":{"values":[{"x":0,"y":0.3032,"y2":0.304}]},"mark":{"type":"rule","color":"#000000","strokeWidth":3},"encoding":{"y2":{"field":"y2"}}},
{"data":{"values":[{"x":-0.0028,"x2":0.0027,"y":0.3},{"x":-0.0015,"x2":0.0014,"y":0.3008},{"x":-0.0001,"x2":0.0001,"y":0.302}]},"mark":{"type":"area","orient":"horizontal","color":"#000000"},"encoding":{"x2":{"field":"x2"}}},
{"data":{"values":[{"x":-0.0128,"x2":-0.0095,"y":0.3049}]},"mark":{"type":"rule","color":"#FFFFFF","strokeWidth":3},"encoding":{"x2":{"field":"x2"}}},
{"data":{"values":[{"x":-0.0135,"y":0.3049}]},"mark":{"type":"point","shape":"triangle-left","filled":true,"size":110,"color":"#FFFFFF","opacity":1}},
{"data":{"values":[{"t":"(b)","x":-0.0482,"y":0.3276}]},"mark":{"type":"text","font":"Liberation Serif","fontSize":30,"align":"left","baseline":"middle","color":"#111111"},"encoding":{"text":{"field":"t"}}},
{"data":{"values":[{"t":"B","x":-0.0163,"y":0.311},{"t":"=30 T","x":-0.0113,"y":0.311}]},"mark":{"type":"text","font":"Liberation Serif","fontSize":21,"align":"left","baseline":"alphabetic","color":"#111111"},"encoding":{"text":{"field":"t"}}},
{"data":{"values":[{"t":"z","x":-0.0132,"y":0.3106}]},"mark":{"type":"text","font":"Liberation Serif","fontSize":14,"align":"left","baseline":"alphabetic","color":"#111111"},"encoding":{"text":{"field":"t"}}},
{"data":{"values":[{"t":"m=4","x":-0.0328,"y":0.3013},{"t":"3","x":-0.0222,"y":0.3013},{"t":"2","x":-0.0148,"y":0.3013},{"t":"1","x":-0.0081,"y":0.3013}]},"mark":{"type":"text","font":"Liberation Serif","fontSize":18,"align":"left","baseline":"middle","color":"#111111"},"encoding":{"text":{"field":"t"}}},
{"data":{"values":[{"t":"E","x":-0.0668,"y":0.3113},{"t":"(V/\u00c5)","x":-0.0668,"y":0.3164}]},"mark":{"type":"text","font":"Liberation Serif","fontSize":29,"angle":270,"align":"center","baseline":"middle","color":"#111111"},"encoding":{"text":{"field":"t"}}},
{"data":{"values":[{"t":"z","x":-0.0648,"y":0.3127}]},"mark":{"type":"text","font":"Liberation Serif","fontSize":18,"angle":270,"align":"center","baseline":"middle","color":"#111111"},"encoding":{"text":{"field":"t"}}},
{"data":{"values":[{"t":"E","x":-0.0091,"y":0.2951},{"t":"(eV)","x":-0.0013,"y":0.2951}]},"mark":{"type":"text","font":"Liberation Serif","fontSize":30,"align":"left","baseline":"alphabetic","color":"#111111"},"encoding":{"text":{"field":"t"}}},
{"data":{"values":[{"t":"F","x":-0.0046,"y":0.2948}]},"mark":{"type":"text","font":"Liberation Serif","fontSize":18,"align":"left","baseline":"alphabetic","color":"#111111"},"encoding":{"text":{"field":"t"}}}
]},
{"width":52,"height":352,"view":{"stroke":null},
"encoding":{"y":{"field":"lo","type":"quantitative","scale":{"domain":[0,14.08],"nice":false,"zero":false},"axis":null}},
"layer":[
{"data":{"name":"barB"},"mark":{"type":"rect"},"encoding":{"x":{"datum":0,"type":"quantitative","scale":{"domain":[0,1]},"axis":null},"x2":{"datum":1},"y2":{"field":"hi"},"color":{"field":"m","type":"nominal","legend":null,"scale":{"domain":[0,1,2,3,4,5,6,7,8,9,10,11,12],"range":["#000000","#FF7800","#FFA500","#FFD700","#FFFF00","#A8D900","#55AA00","#007800","#3F7A7F","#7878FF","#7D50FF","#7A28FF","#7800FF"]}}}},
{"data":{"name":"barB"},"mark":{"type":"text","font":"Noto Sans","fontSize":17,"align":"left","baseline":"middle"},"encoding":{"x":{"datum":0.31,"type":"quantitative"},"y":{"field":"mid","type":"quantitative"},"text":{"field":"m"},"color":{"condition":{"test":"datum.m>=10||datum.m==0","value":"#FFFFFF"},"value":"#111111"}}},
{"data":{"values":[{"t":"m=","lo":13.68}]},"mark":{"type":"text","font":"Liberation Serif","fontSize":20,"align":"left","baseline":"middle","color":"#111111"},"encoding":{"x":{"datum":0,"type":"quantitative"},"text":{"field":"t"}}}
]}
]}
